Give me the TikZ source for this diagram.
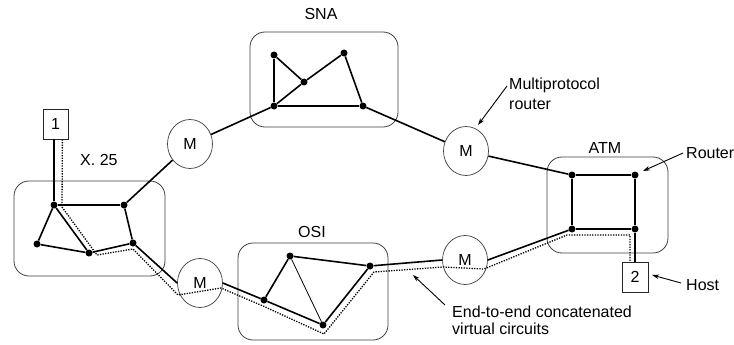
\documentclass[tikz,border=0pt]{standalone}
\usepackage{fontspec}
\setmainfont{Liberation Sans}
\usetikzlibrary{calc,arrows.meta,shapes.geometric}
\begin{document}
\begin{tikzpicture}[x=1pt,y=-1pt,
  router/.style={circle,fill=black,inner sep=0pt,minimum size=7pt},
  mp/.style={ellipse,draw=black!75,line width=0.7pt,minimum width=45pt,minimum height=49pt,inner sep=0pt,font=\fontsize{16}{18}\selectfont},
  hostbox/.style={draw=black!85,line width=0.8pt,inner sep=0pt,font=\fontsize{16}{18}\selectfont},
  region/.style={draw=black!75,line width=0.8pt,rounded corners=15pt},
  link/.style={line width=1.6pt},
  thinlink/.style={line width=0.8pt},
  vc/.style={line width=1.3pt,dash pattern=on 1.3pt off 1.3pt},
  lbl/.style={font=\fontsize{16}{18}\selectfont,inner sep=0pt},
  callout/.style={line width=0.9pt,-{Stealth[length=7pt,width=4.5pt]}}
]
\useasboundingbox (0,0) rectangle (734,345);
\fill[white] (0,0) rectangle (734,345);

% regions
\draw[region] (14,181) rectangle (165,276);
\draw[region] (250,32) rectangle (398,127);
\draw[region] (238,243) rectangle (388,340);
\draw[region] (547,157) rectangle (668,253);

% region labels
\node[lbl,anchor=base] (lsna) at (321,20) {SNA};
\node[lbl,anchor=base west] (lx25) at (80,165) {X. 25};
\node[lbl,anchor=base] (losi) at (312,237) {OSI};
\node[lbl,anchor=base] (latm) at (605,153) {ATM};

% routers X.25
\node[router] (xa) at (54,205) {};
\node[router] (xb) at (124,205) {};
\node[router] (xc) at (37,244) {};
\node[router] (xd) at (89,253) {};
\node[router] (xe) at (133,243) {};
% SNA
\node[router] (sp) at (274,55) {};
\node[router] (sq) at (304,82) {};
\node[router] (sr) at (344,53) {};
\node[router] (ss) at (274,106) {};
\node[router] (st) at (363,106) {};
% OSI
\node[router] (ou) at (290,256) {};
\node[router] (ov) at (264,300) {};
\node[router] (ow) at (323,325) {};
\node[router] (ox) at (370,266) {};
% ATM
\node[router] (atl) at (572,175) {};
\node[router] (atr) at (635,175) {};
\node[router] (abl) at (572,229) {};
\node[router] (abr) at (635,229) {};

% multiprotocol routers
\node[mp] (m1) at (190,144) {M};
\node[mp] (m2) at (200,283) {M};
\node[mp] (m3) at (466,151) {M};
\node[mp] (m4) at (465,260) {M};

% hosts
\node[hostbox,minimum width=25pt,minimum height=30pt] (h1) at (55.5,124) {1};
\node[hostbox,minimum width=26pt,minimum height=30pt] (h2) at (635,277) {2};

% virtual circuit (dotted)
\draw[vc] ($(h1.south east)+(-6,0)$) -- ($(xa)+(8,2)$) -- ($(xd)+(8,2)$)
  -- ($(xe)+(0,6)$) -- ($(m2)+(-22,12)$) -- ($(m2)+(21,5)$)
  -- ($(ov)+(-1,6)$) -- ($(ow)+(1,9)$) -- ($(ox)+(4,6)$)
  -- ($(m4)+(-22,7)$) -- ($(m4)+(19,9)$) -- ($(abl)+(-5,6)$)
  -- ($(abr)+(-5,6)$) -- ($(abr |- h2.north)+(-5,0)$);

% X.25 links
\draw[link] (xa) -- (xb);
\draw[link] (xa) -- (xc);
\draw[link] (xc) -- (xd);
\draw[link] (xa) -- (xd);
\draw[link] (xb) -- (xe);
\draw[link] (xd) -- (xe);
\draw[link] (xa |- h1.south) -- (xa);
% SNA links
\draw[link] (sp) -- (sq);
\draw[link] (sp) -- (ss);
\draw[link] (ss) -- (sq);
\draw[link] (sq) -- (sr);
\draw[link] (ss) -- (st);
\draw[link] (sr) -- (st);
% OSI links
\draw[link] (ou) -- (ox);
\draw[link] (ou) -- (ov);
\draw[thinlink] (ou) -- (ow);
\draw[link] (ov) -- (ow);
\draw[link] (ow) -- (ox);
% ATM links
\draw[link] (atl) -- (atr);
\draw[link] (atr) -- (abr);
\draw[link] (abr) -- (abl);
\draw[link] (abl) -- (atl);
\draw[link] (abr) -- (abr |- h2.north);
% inter-network links
\draw[link] (xb) -- (m1);
\draw[link] (m1) -- (ss);
\draw[link] (st) -- (m3);
\draw[link] (m3) -- (atl);
\draw[link] (xe) -- (m2.west);
\draw[link] (m2.east) -- (ov);
\draw[link] (ox) -- (m4.west);
\draw[link] (m4.east) -- (abl);

% annotations
\node[lbl,anchor=base west] (tmp1) at (509,90) {Multiprotocol};
\node[lbl,anchor=base west] (tmp2) at (509,110) {router};
\node[lbl,anchor=base west] (trt) at (686,158) {Router};
\node[lbl,anchor=base west] (thost) at (686,290) {Host};
\node[lbl,anchor=base west] (tvc1) at (452,317) {End-to-end concatenated};
\node[lbl,anchor=base west] (tvc2) at (452,334) {virtual circuits};

\coordinate (amp) at (478,125);
\coordinate (art) at (643,171);
\coordinate (aho) at (652,275);
\coordinate (avc) at (413,275);
\draw[callout] (tmp1.west |- 0,86) ++(-2,0) -- (amp);
\draw[callout] (trt.west |- 0,153) ++(-3,0) -- (art);
\draw[callout] (thost.west |- 0,283) ++(-5,0) -- (aho);
\draw[callout] (tvc1.west |- 0,305) ++(-7,0) -- (avc);
\end{tikzpicture}
\end{document}
